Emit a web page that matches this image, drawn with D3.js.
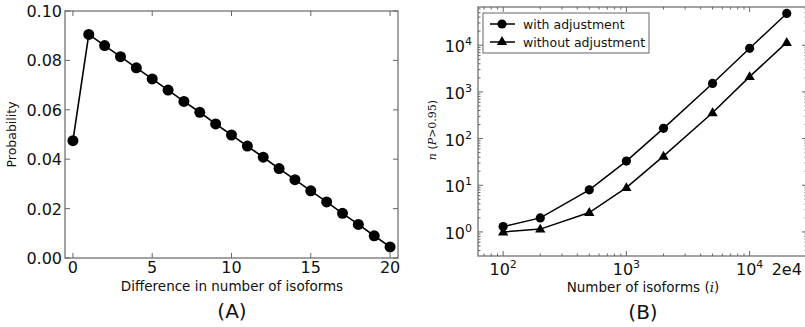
<!DOCTYPE html>
<html>
<head>
<meta charset="utf-8">
<script src="https://cdn.jsdelivr.net/npm/d3@7"></script>
<style>
  body { margin: 0; background: #fff; }
  text { font-family: "DejaVu Sans", sans-serif; fill: #111; }
  .math { font-family: "DejaVu Serif", serif; font-style: italic; }
</style>
</head>
<body>
<svg id="chart" width="805" height="327"></svg>
<script>
// ── data ──────────────────────────────────────────────
const diffX = d3.range(0, 21);
const probY = [0.0475, 0.0905, 0.0860, 0.0815, 0.0770, 0.0725, 0.0680, 0.0634, 0.0590, 0.0543,
               0.0498, 0.0453, 0.0408, 0.0362, 0.0317, 0.0272, 0.0227, 0.0181, 0.0136, 0.0090, 0.0045];
const aTicksX = [0, 5, 10, 15, 20];
const aTicksY = [0, 0.02, 0.04, 0.06, 0.08, 0.10];

const isoforms = [100, 200, 500, 1000, 2000, 5000, 10000, 20000];
const withAdj = [1.3, 2.0, 8.0, 33, 166, 1520, 8600, 48000];
const withoutAdj = [1.0, 1.15, 2.6, 8.9, 42, 357, 2130, 11500];
const bTicksX = [100, 1000, 10000, 20000];
const bTicksY = [1, 10, 100, 1000, 10000];

const svg = d3.select('#chart');
const spine = '#666';

function tickMarks(g, scale, vals, orient, x0, x1, len) {
  // inward ticks on both opposing spines
  vals.forEach(v => {
    const p = scale(v);
    if (orient === 'x') {
      g.append('line').attr('x1', p).attr('x2', p).attr('y1', x1).attr('y2', x1 - len).attr('stroke', spine);
      g.append('line').attr('x1', p).attr('x2', p).attr('y1', x0).attr('y2', x0 + len).attr('stroke', spine);
    } else {
      g.append('line').attr('y1', p).attr('y2', p).attr('x1', x0).attr('x2', x0 + len).attr('stroke', spine);
      g.append('line').attr('y1', p).attr('y2', p).attr('x1', x1).attr('x2', x1 - len).attr('stroke', spine);
    }
  });
}

// ── Panel A ───────────────────────────────────────────
{
  const L = 65, R = 398, T = 11, B = 258;
  const x = d3.scaleLinear().domain([-0.5, 20.5]).range([L, R]);
  const y = d3.scaleLinear().domain([0, 0.10]).range([B, T]);
  const g = svg.append('g');

  g.append('rect').attr('x', L).attr('y', T).attr('width', R - L).attr('height', B - T)
    .attr('fill', 'none').attr('stroke', spine).attr('stroke-width', 1.2);
  tickMarks(g, x, aTicksX, 'x', T, B, 5);
  tickMarks(g, y, aTicksY, 'y', L, R, 5);

  aTicksX.forEach(v => g.append('text').attr('x', x(v)).attr('y', B + 15)
    .attr('text-anchor', 'middle').attr('font-size', 16).text(v));
  aTicksY.forEach(v => g.append('text').attr('x', L - 3).attr('y', y(v) + 6)
    .attr('text-anchor', 'end').attr('font-size', 16).text(v.toFixed(2)));

  const pts = diffX.map((d, i) => [d, probY[i]]);
  g.append('path').datum(pts)
    .attr('d', d3.line().x(d => x(d[0])).y(d => y(d[1])))
    .attr('fill', 'none').attr('stroke', '#000').attr('stroke-width', 1.6);
  g.selectAll('.dotA').data(pts).join('circle')
    .attr('cx', d => x(d[0])).attr('cy', d => y(d[1])).attr('r', 5.5).attr('fill', '#000');

  g.append('text').attr('transform', `translate(16,${(T + B) / 2}) rotate(-90)`)
    .attr('text-anchor', 'middle').attr('font-size', 12.5).text('Probability');
  g.append('text').attr('x', 232).attr('y', 291).attr('text-anchor', 'middle')
    .attr('font-size', 13.5).text('Difference in number of isoforms');
  g.append('text').attr('x', 232).attr('y', 318).attr('text-anchor', 'middle')
    .attr('font-size', 20).text('(A)');
}

// ── Panel B ───────────────────────────────────────────
{
  const L = 478, R = 807, T = 7, B = 256;
  const x = d3.scaleLog().domain([62.5, 29200]).range([L, R]);
  const y = d3.scaleLog().domain([0.305, 66000]).range([B, T]);
  const g = svg.append('g');

  g.append('rect').attr('x', L).attr('y', T).attr('width', R - L).attr('height', B - T)
    .attr('fill', 'none').attr('stroke', spine).attr('stroke-width', 1.2);

  const minorX = x.ticks().filter(v => bTicksX.indexOf(v) < 0 && v >= 62.5);
  const minorY = y.ticks().filter(v => bTicksY.indexOf(v) < 0);
  tickMarks(g, x, minorX, 'x', T, B, 2.5);
  tickMarks(g, y, minorY, 'y', L, R, 2.5);
  tickMarks(g, x, bTicksX.slice(0, 3), 'x', T, B, 5);
  tickMarks(g, y, bTicksY, 'y', L, R, 5);

  bTicksX.forEach(v => {
    const t = g.append('text').attr('x', x(v)).attr('y', B + 19).attr('text-anchor', 'middle').attr('font-size', 16);
    if (v === 20000) { t.text('2e4'); return; }
    t.append('tspan').text('10');
    t.append('tspan').attr('dy', -7).attr('font-size', 11).text(Math.round(Math.log10(v)));
  });
  bTicksY.forEach(v => {
    const t = g.append('text').attr('x', L - 6).attr('y', y(v) + 7).attr('text-anchor', 'end').attr('font-size', 16);
    t.append('tspan').text('10');
    t.append('tspan').attr('dy', -7).attr('font-size', 11).text(Math.round(Math.log10(v)));
  });

  const s1 = isoforms.map((d, i) => [d, withAdj[i]]);
  const s2 = isoforms.map((d, i) => [d, withoutAdj[i]]);
  const line = d3.line().x(d => x(d[0])).y(d => y(d[1]));
  [s1, s2].forEach(s => g.append('path').datum(s).attr('d', line)
    .attr('fill', 'none').attr('stroke', '#000').attr('stroke-width', 1.5));
  const tri = d3.symbol().type(d3.symbolTriangle).size(46);
  g.selectAll('.dotB').data(s1).join('circle')
    .attr('cx', d => x(d[0])).attr('cy', d => y(d[1])).attr('r', 4.6).attr('fill', '#000');
  g.selectAll('.triB').data(s2).join('path').attr('d', tri)
    .attr('transform', d => `translate(${x(d[0])},${y(d[1]) + 0.5})`).attr('fill', '#000');

  // legend
  const lg = g.append('g');
  lg.append('rect').attr('x', 483).attr('y', 13).attr('width', 166).attr('height', 40)
    .attr('fill', '#fff').attr('stroke', spine).attr('stroke-width', 1);
  [['with adjustment', 'c', 24], ['without adjustment', 't', 42]].forEach(([lab, m, ly]) => {
    lg.append('line').attr('x1', 490).attr('x2', 515).attr('y1', ly).attr('y2', ly)
      .attr('stroke', '#000').attr('stroke-width', 1.5);
    if (m === 'c') lg.append('circle').attr('cx', 502).attr('cy', ly).attr('r', 4.6).attr('fill', '#000');
    else lg.append('path').attr('d', tri).attr('transform', `translate(502,${ly})`).attr('fill', '#000');
    lg.append('text').attr('x', 523).attr('y', ly + 4.5).attr('font-size', 12.5).text(lab);
  });

  const yl = g.append('text').attr('transform', `translate(436,130) rotate(-90)`)
    .attr('text-anchor', 'middle').attr('font-size', 11);
  yl.append('tspan').attr('class', 'math').text('n');
  yl.append('tspan').text(' (');
  yl.append('tspan').attr('class', 'math').text('P');
  yl.append('tspan').attr('font-family', 'DejaVu Serif').text('>0.95');
  yl.append('tspan').text(')');

  const xl = g.append('text').attr('x', 643).attr('y', 292).attr('text-anchor', 'middle').attr('font-size', 13.5);
  xl.append('tspan').text('Number of isoforms (');
  xl.append('tspan').attr('class', 'math').text('i');
  xl.append('tspan').text(')');
  g.append('text').attr('x', 643).attr('y', 319).attr('text-anchor', 'middle')
    .attr('font-size', 20).text('(B)');
}
</script>
</body>
</html>
